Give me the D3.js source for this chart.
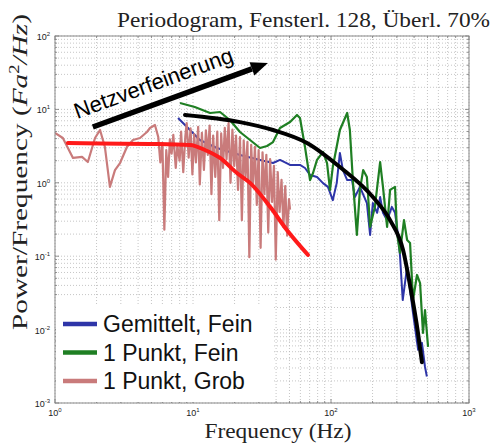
<!DOCTYPE html>
<html><head><meta charset="utf-8">
<script src="https://cdn.jsdelivr.net/npm/d3@7"></script>
<style>body{margin:0;background:#fff}</style>
</head><body>
<svg id="c" width="493" height="443"></svg>
<script>
// ---- data ----
const pinkF = [1.00,1.14,1.35,1.57,1.73,1.95,2.12,2.30,2.50,2.72,2.96,3.32,3.67,4.13,4.64,4.88,5.30,
  5.6,5.8,6.0,6.2,6.4,6.6,6.8,7.0,7.2,7.5,7.7,8.0,8.2,8.5,8.8,9.0,9.3,9.6,9.9,10.2,10.5,10.9,11.2,11.6,12.0,12.4,12.8,13.2,13.6,14.0,14.5,15.0,15.5,16.0,16.5,17.0,17.5,18.1,18.7,19.3,19.9,20.5,21.2,21.9,22.6,23.3,24.0,24.8,25.6,26.4,27.2,28.1,29.0,29.9,30.9,31.9,32.9,34.0,35.1,36.2,37.4,38.6,39.8,41.1,42.4,43.8,45.2,46.6,48.1,49.6,50.5];
const pinkV = [4.77,4.08,2.18,2.25,1.92,4.08,5.24,3.07,0.88,1.49,1.86,3.07,3.83,4.08,4.92,5.58,6.13,
  4.2,1.9,3.5,0.23,2.8,1.2,3.9,2.5,4.5,1.6,3.2,2.0,5.0,1.4,4.3,6.5,2.2,5.5,1.3,4.6,1.9,5.8,0.95,4.8,1.5,5.2,2.4,6.0,0.7,4.4,1.2,5.0,0.31,4.7,1.6,5.6,2.1,6.5,1.0,5.3,1.7,4.4,0.8,4.2,0.31,3.8,1.2,3.6,0.097,3.3,0.9,3.1,0.5,2.8,0.13,2.6,0.7,2.4,0.21,2.1,0.55,1.7,0.09,1.4,0.4,1.1,0.25,0.9,0.19,0.6,0.43];
const blueF = [7.79,9.05,11.2,14.9,21.9,30.6,38.0,42.7,50.5,59.6,64.8,70.5,79.2,87.5,95.0,103,110,116,122,131,142,149,162,182,192,201,216,227,238,255,276,291,301,316,331,356,374,393,428,456,480,495];
const blueV = [7.64,5.76,3.83,2.98,2.39,2.05,1.86,2.05,1.75,1.75,1.59,1.28,1.20,0.99,0.88,0.58,0.99,2.55,1.49,1.09,1.09,0.64,0.88,0.53,0.195,0.53,0.39,0.64,0.39,0.31,0.47,0.39,0.25,0.104,0.0253,0.0713,0.0346,0.0168,0.0053,0.0066,0.0031,0.0023];
const greenF = [8.05,10.3,13.3,15.7,18.5,21.9,25.9,30.6,34.4,38.0,42.7,50.5,56.7,59.6,64.8,70.5,74.1,79.2,87.5,93.6,98.4,103,116,131,137,144,154,162,171,182,192,208,227,238,255,268,291,301,316,338,356,374,393,420,442,464,480,505];
const greenV = [12.2,10.8,8.94,9.22,7.17,4.92,3.83,2.98,3.17,3.59,5.58,6.73,8.39,7.64,3.07,1.09,1.36,2.05,2.63,1.86,0.80,1.64,5.24,8.94,5.24,1.09,0.195,0.80,1.49,1.20,0.25,0.47,1.92,0.88,0.25,0.80,0.88,0.207,0.111,0.31,0.166,0.151,0.0253,0.0555,0.0431,0.0090,0.0185,0.0058];
const fitRedF = [1.24,2.12,4.88,9.51,12.2,15.7,20.8,25.9,36.3,47.9,68.1];
const fitRedV = [3.49,3.43,3.38,3.27,2.80,2.18,1.36,0.997,0.468,0.227,0.104];
const fitBlackF = [8.75,21.9,38.0,67.0,116,201,268,333,374,427,456];
const fitBlackV = [8.39,6.71,5.24,3.49,1.64,0.64,0.31,0.121,0.040,0.0090,0.0036];
const legendLabels = ["Gemittelt, Fein","1 Punkt, Fein","1 Punkt, Grob"];
const xTickExp = [0,1,2,3];
const yTickExp = [-3,-2,-1,0,1,2];

// ---- chart ----
const svg = d3.select("#c");
const x = d3.scaleLog().domain([1,1000]).range([55,469]);
const y = d3.scaleLog().domain([1e-3,1e2]).range([403,36]);

// grid
const gx = x.ticks(), gy = y.ticks();
const grid = svg.append("g").attr("stroke","#b8b8b8").attr("stroke-width",0.8).attr("stroke-dasharray","1,2");
grid.selectAll(".vx").data(gx).join("line").attr("x1",d=>x(d)).attr("x2",d=>x(d)).attr("y1",36).attr("y2",403);
grid.selectAll(".hy").data(gy).join("line").attr("y1",d=>y(d)).attr("y2",d=>y(d)).attr("x1",55).attr("x2",469);

// ticks
const tk = svg.append("g").attr("stroke","#777").attr("stroke-width",0.8);
gx.forEach(d=>{const L = Math.abs(Math.log10(d)%1)<1e-9?4:2;
  tk.append("line").attr("x1",x(d)).attr("x2",x(d)).attr("y1",403).attr("y2",403-L);
  tk.append("line").attr("x1",x(d)).attr("x2",x(d)).attr("y1",36).attr("y2",36+L);});
gy.forEach(d=>{const L = Math.abs(Math.log10(d)%1)<1e-9?4:2;
  tk.append("line").attr("y1",y(d)).attr("y2",y(d)).attr("x1",55).attr("x2",55+L);
  tk.append("line").attr("y1",y(d)).attr("y2",y(d)).attr("x1",469).attr("x2",469-L);});

// lines
const line = d3.line().x(d=>x(d[0])).y(d=>y(d[1]));
const zip = (a,b)=>a.map((v,i)=>[v,b[i]]);
svg.append("clipPath").attr("id","pc").append("rect").attr("x",55).attr("y",36).attr("width",414).attr("height",367);
const plot = svg.append("g").attr("clip-path","url(#pc)");
plot.append("path").attr("d",line(zip(blueF,blueV))).attr("fill","none").attr("stroke","#2e35a8").attr("stroke-width",2).attr("stroke-linejoin","round");
plot.append("path").attr("d",line(zip(greenF,greenV))).attr("fill","none").attr("stroke","#1f7f23").attr("stroke-width",2.2).attr("stroke-linejoin","round");
plot.append("path").attr("d",line(zip(pinkF,pinkV))).attr("fill","none").attr("stroke","#c97b7b").attr("stroke-width",2.2).attr("stroke-linejoin","round");
const cl = d3.line().curve(d3.curveMonotoneX).x(d=>x(d[0])).y(d=>y(d[1]));
plot.append("path").attr("d",cl(zip(fitBlackF,fitBlackV))).attr("fill","none").attr("stroke","#000").attr("stroke-width",4).attr("stroke-linecap","round");
plot.append("path").attr("d",cl(zip(fitRedF,fitRedV))).attr("fill","none").attr("stroke","#ff1a1a").attr("stroke-width",4).attr("stroke-linecap","round");

// box
svg.append("rect").attr("x",55).attr("y",36).attr("width",414).attr("height",367).attr("fill","none").attr("stroke","#888").attr("stroke-width",1);

// legend
svg.append("rect").attr("x",56).attr("y",306).attr("width",216).attr("height",96).attr("fill","#fff");
const legCol = ["#2e35a8","#1f7f23","#c97b7b"];
legendLabels.forEach((t,i)=>{
  const yy = 324 + i*28.5;
  svg.append("line").attr("x1",63).attr("x2",97).attr("y1",yy).attr("y2",yy).attr("stroke",legCol[i]).attr("stroke-width",4.5);
  svg.append("text").attr("x",103).attr("y",yy+8).attr("font-family","Liberation Sans, Arial, sans-serif").attr("font-size",23).attr("fill","#111").text(t);
});

// tick labels
const tf = "Liberation Sans, Arial, sans-serif";
xTickExp.forEach(e=>{
  const t = svg.append("text").attr("x",x(Math.pow(10,e))).attr("y",416).attr("text-anchor","middle").attr("font-family",tf).attr("font-size",9).attr("fill","#222");
  t.append("tspan").text("10");
  t.append("tspan").attr("dy",-4).attr("font-size",6).text(e);
});
yTickExp.forEach(e=>{
  const t = svg.append("text").attr("x",50).attr("y",y(Math.pow(10,e))+4).attr("text-anchor","end").attr("font-family",tf).attr("font-size",9).attr("fill","#222");
  t.append("tspan").text("10");
  t.append("tspan").attr("dy",-4).attr("font-size",6).text(e);
});

// title & labels
const sf = "Liberation Serif, Times New Roman, serif";
svg.append("text").attr("x",117).attr("y",27).attr("font-family",sf).attr("font-size",21).attr("fill","#222")
  .attr("textLength",373).attr("lengthAdjust","spacingAndGlyphs").text("Periodogram, Fensterl. 128, Überl. 70%");
svg.append("text").attr("x",278).attr("y",438).attr("text-anchor","middle").attr("font-family",sf).attr("font-size",20).attr("fill","#222")
  .attr("textLength",147).attr("lengthAdjust","spacingAndGlyphs").text("Frequency (Hz)");
const yl = svg.append("text").attr("transform","translate(27,172) rotate(-90)").attr("text-anchor","middle").attr("font-family",sf).attr("font-size",22).attr("fill","#222")
  .attr("textLength",316).attr("lengthAdjust","spacingAndGlyphs");
yl.append("tspan").text("Power/Frequency (");
yl.append("tspan").attr("font-style","italic").text("Fa");
yl.append("tspan").attr("dy",-8).attr("font-size",14).text("2");
yl.append("tspan").attr("dy",8).attr("font-style","italic").text("/Hz");
yl.append("tspan").text(")");

// annotation arrow
const aS = [1.88,5.76], aT = [34.9,42.9];
const x1 = x(aS[0]), y1 = y(aS[1]), x2 = x(aT[0]), y2 = y(aT[1]);
const ang = Math.atan2(y2-y1,x2-x1);
const hl = 17, hw = 7;
const bx = x2 - hl*Math.cos(ang), by = y2 - hl*Math.sin(ang);
svg.append("line").attr("x1",x1).attr("y1",y1).attr("x2",bx).attr("y2",by).attr("stroke","#000").attr("stroke-width",5.5);
svg.append("path").attr("d",`M${x2},${y2}L${bx+hw*Math.sin(ang)},${by-hw*Math.cos(ang)}L${bx-hw*Math.sin(ang)},${by+hw*Math.cos(ang)}Z`).attr("fill","#000");
const tpos = [1.45,7.4];
svg.append("text").attr("transform",`translate(${x(tpos[0])},${y(tpos[1])}) rotate(${ang*180/Math.PI})`).attr("font-family",tf).attr("font-size",22).attr("fill","#000").text("Netzverfeinerung");
</script>
</body></html>
